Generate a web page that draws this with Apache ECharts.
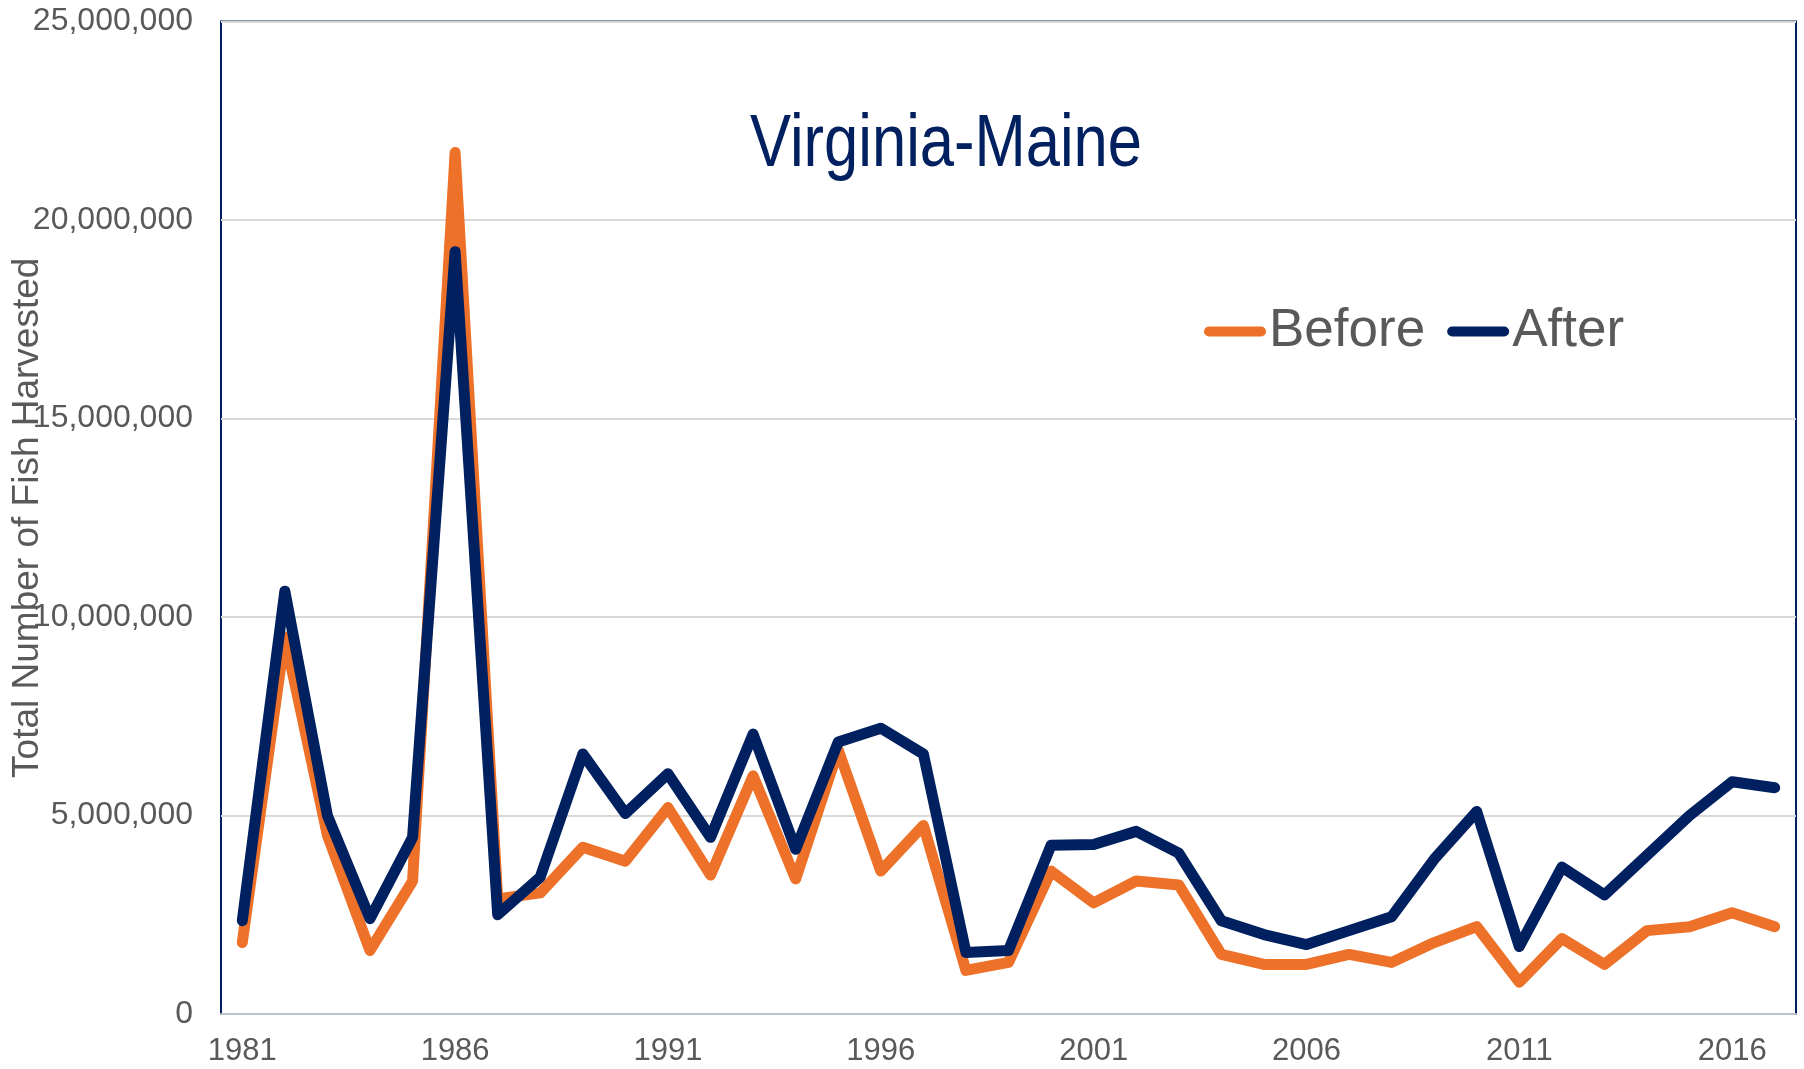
<!DOCTYPE html>
<html>
<head>
<meta charset="utf-8">
<script src="https://cdn.jsdelivr.net/npm/echarts@6/dist/echarts.min.js"></script>
<style>
html,body{margin:0;padding:0;background:#fff;}
#chart{width:1804px;height:1069px;}
</style>
</head>
<body>
<div id="chart"></div>
<script>
const years = ['1981','1982','1983','1984','1985','1986','1987','1988','1989','1990','1991','1992','1993','1994','1995','1996','1997','1998','1999','2000','2001','2002','2003','2004','2005','2006','2007','2008','2009','2010','2011','2012','2013','2014','2015','2016','2017'];
const before = [1800000,9500000,4500000,1600000,3350000,21700000,2900000,3050000,4200000,3850000,5200000,3500000,6000000,3400000,6650000,3600000,4750000,1100000,1300000,3600000,2800000,3350000,3250000,1500000,1250000,1250000,1500000,1300000,1800000,2200000,800000,1900000,1250000,2100000,2200000,2550000,2200000];
const after = [2350000,10650000,5000000,2400000,4450000,19200000,2500000,3450000,6550000,5050000,6050000,4450000,7050000,4150000,6850000,7200000,6550000,1550000,1600000,4250000,4270000,4600000,4050000,2350000,2000000,1750000,2100000,2450000,3900000,5100000,1700000,3700000,3000000,4000000,5000000,5850000,5700000];
const seriesNames = ['Before','After'];
const chartTitle = 'Virginia-Maine';
const yAxisTitle = 'Total Number of Fish Harvested';

const FONT = '"Liberation Sans", Arial, sans-serif';
const GREY = '#595959';
const ORANGE = '#ED7128';
const NAVY = '#002060';
const pill = 'path://M5,0 L57,0 A5,5 0 0 1 57,10 L5,10 A5,5 0 0 1 5,0 Z';

const chart = echarts.init(document.getElementById('chart'), null, {renderer:'canvas'});
chart.setOption({
  animation: false,
  backgroundColor: '#ffffff',
  grid: {
    left: 221, top: 21.5, right: 8, bottom: 55,
    show: true, borderColor: NAVY, borderWidth: 2,
    containLabel: false, outerBoundsMode: 'none'
  },
  graphic: [{
    type: 'text', x: 946, y: 145, scaleX: 0.82, z: 10,
    style: {
      text: chartTitle, fill: NAVY, font: '75px "Liberation Sans", Arial, sans-serif',
      textAlign: 'center', textVerticalAlign: 'middle'
    }
  }],
  legend: {
    data: seriesNames,
    left: 1199, top: 300,
    itemWidth: 62, itemHeight: 11, itemGap: 22,
    icon: pill,
    textStyle: {fontFamily: FONT, fontSize: 53, color: GREY, padding: [0,0,0,-2]}
  },
  xAxis: {
    type: 'category', data: years, boundaryGap: true,
    axisLine: {show: true, lineStyle: {color: '#BCC2CC', width: 2}},
    axisTick: {show: false},
    axisLabel: {interval: 4, margin: 22, fontFamily: FONT, fontSize: 31, color: GREY},
    splitLine: {show: false}
  },
  yAxis: {
    type: 'value', min: 0, max: 25000000, interval: 5000000,
    name: yAxisTitle, nameLocation: 'middle', nameGap: 175, nameMoveOverlap: false,
    nameTextStyle: {fontFamily: FONT, fontSize: 37, color: GREY},
    axisLine: {show: false}, axisTick: {show: false},
    axisLabel: {margin: 28, fontFamily: FONT, fontSize: 32, color: GREY,
      formatter: v => v.toLocaleString('en-US')},
    splitLine: {show: true, lineStyle: {color: '#D9D9D9', width: 2}}
  },
  series: [
    {name: seriesNames[0], type: 'line', data: before, symbol: 'none', color: ORANGE,
     lineStyle: {color: ORANGE, width: 11, cap: 'round', join: 'round'}, z: 3},
    {name: seriesNames[1], type: 'line', data: after, symbol: 'none', color: NAVY,
     lineStyle: {color: NAVY, width: 11, cap: 'round', join: 'round'}, z: 4}
  ]
});
</script>
</body>
</html>
